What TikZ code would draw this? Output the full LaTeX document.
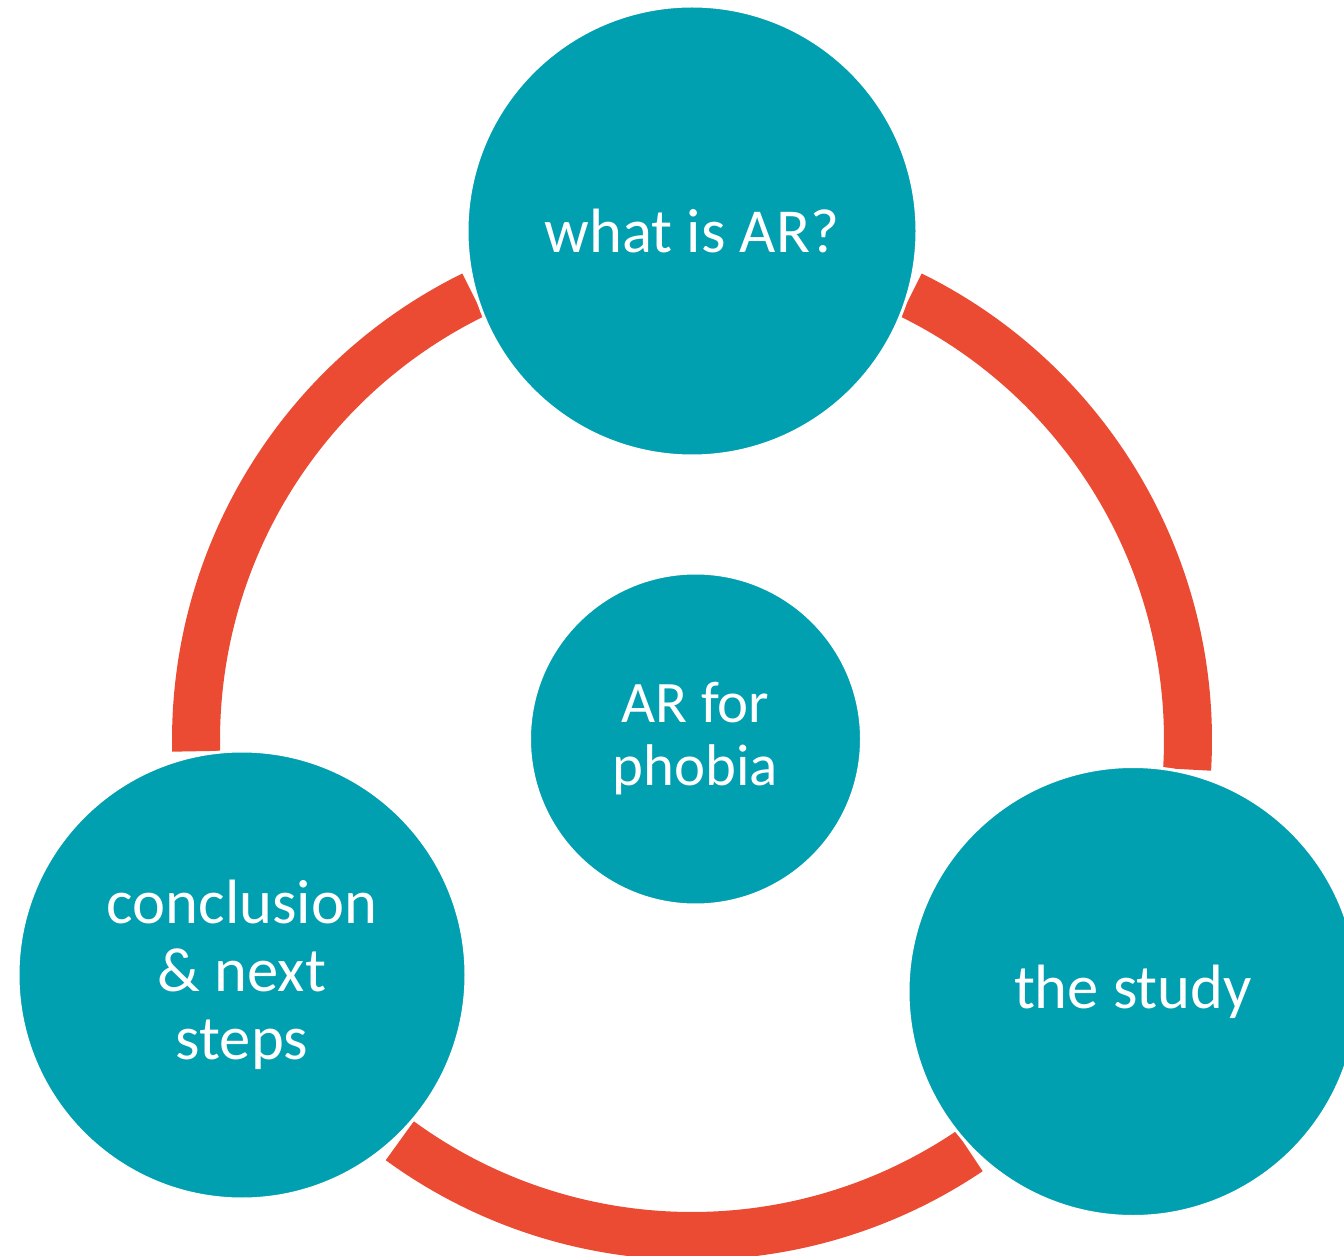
\documentclass[tikz,border=0pt]{standalone}
\usepackage{fontspec}
\setmainfont{Carlito}
\definecolor{teal}{RGB}{0,160,176}
\definecolor{ringred}{RGB}{235,75,50}
\tikzset{
  topic/.style={circle, fill=teal, draw=white, line width=1.5pt, inner sep=0pt,
    text=white, align=center, minimum size=#1},
  outertext/.style={font=\fontsize{31.3}{34}\selectfont},
  hubtext/.style={font=\fontsize{29.4}{31.5}\selectfont},
  ringarc/.style={draw=ringred, line width=24pt, line cap=butt},
}
\begin{document}
\begin{tikzpicture}[x=0.5pt, y=0.5pt]
  \useasboundingbox (0,0) rectangle (1344,-1256);
  \clip (0,0) rectangle (1344,-1256);
  \coordinate (c) at (692,-740);
  % ring segments between the three topic circles
  \draw[ringarc] ([shift={(116.2:496)}]c) arc[start angle=116.2, end angle=181.3, radius=496];
  \draw[ringarc] ([shift={(63.8:496)}]c) arc[start angle=63.8, end angle=-3.4, radius=496];
  \draw[ringarc] ([shift={(233.9:496)}]c) arc[start angle=233.9, end angle=304.0, radius=496];
  % topics
  \node[topic=225pt, outertext] (what) at (692,-231) {what is AR?};
  \node[topic=225pt, outertext] (study) at (1133,-991.5) {the study};
  \node[topic=224pt, outertext] (concl) at (242,-975) {conclusion\\ \&~next\\ steps};
  % hub
  \node[topic=166pt, hubtext] (hub) at (695.5,-739) {AR for\\ phobia};
\end{tikzpicture}
\end{document}
